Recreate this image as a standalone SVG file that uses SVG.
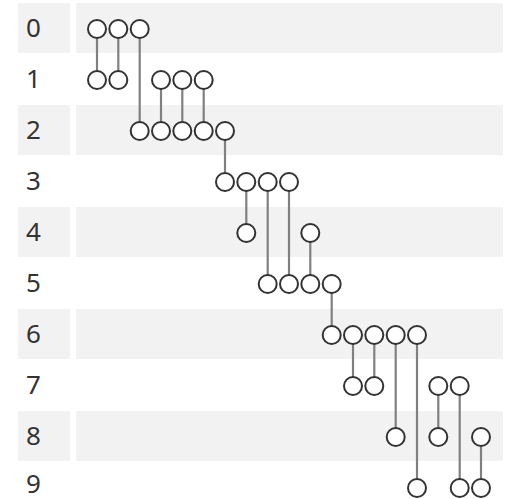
<svg xmlns="http://www.w3.org/2000/svg" width="510" height="499" viewBox="0 0 510 499">
<style>
.band{fill:#f2f2f2}
.lbl{font-family:"Noto Sans","Liberation Sans",sans-serif;font-size:26px;fill:#333}
.e{stroke:#808080;stroke-width:2.2;fill:none}
.n{fill:#fff;stroke:#333;stroke-width:2}
</style>
<rect width="510" height="499" fill="#fff"/>
<g id="bands">
<rect class="band" x="18" y="3" width="52" height="50"/><rect class="band" x="76" y="3" width="427" height="50"/>
<rect class="band" x="18" y="105" width="52" height="50"/><rect class="band" x="76" y="105" width="427" height="50"/>
<rect class="band" x="18" y="207" width="52" height="50"/><rect class="band" x="76" y="207" width="427" height="50"/>
<rect class="band" x="18" y="309" width="52" height="50"/><rect class="band" x="76" y="309" width="427" height="50"/>
<rect class="band" x="18" y="411" width="52" height="50"/><rect class="band" x="76" y="411" width="427" height="50"/>
</g>
<g id="labels">
<text class="lbl" x="26" y="37">0</text>
<text class="lbl" x="26" y="88">1</text>
<text class="lbl" x="26" y="139">2</text>
<text class="lbl" x="26" y="190">3</text>
<text class="lbl" x="26" y="241">4</text>
<text class="lbl" x="26" y="292">5</text>
<text class="lbl" x="26" y="343">6</text>
<text class="lbl" x="26" y="394">7</text>
<text class="lbl" x="26" y="445">8</text>
<text class="lbl" x="26" y="493">9</text>
</g>
<g id="connectors">
<line class="e" x1="97" y1="29" x2="97" y2="80"/>
<line class="e" x1="118.3" y1="29" x2="118.3" y2="80"/>
<line class="e" x1="139.7" y1="29" x2="139.7" y2="131"/>
<line class="e" x1="161" y1="80" x2="161" y2="131"/>
<line class="e" x1="182.3" y1="80" x2="182.3" y2="131"/>
<line class="e" x1="203.7" y1="80" x2="203.7" y2="131"/>
<line class="e" x1="225" y1="131" x2="225" y2="182"/>
<line class="e" x1="246.3" y1="182" x2="246.3" y2="233"/>
<line class="e" x1="267.7" y1="182" x2="267.7" y2="284"/>
<line class="e" x1="289" y1="182" x2="289" y2="284"/>
<line class="e" x1="310.3" y1="233" x2="310.3" y2="284"/>
<line class="e" x1="331.7" y1="284" x2="331.7" y2="335"/>
<line class="e" x1="353" y1="335" x2="353" y2="386"/>
<line class="e" x1="374.3" y1="335" x2="374.3" y2="386"/>
<line class="e" x1="395.7" y1="335" x2="395.7" y2="437"/>
<line class="e" x1="417" y1="335" x2="417" y2="488"/>
<line class="e" x1="438.3" y1="386" x2="438.3" y2="437"/>
<line class="e" x1="459.7" y1="386" x2="459.7" y2="488"/>
<line class="e" x1="481" y1="437" x2="481" y2="488"/>
</g>
<g id="n0_0"><circle class="n" cx="97" cy="29" r="9"/></g>
<g id="n0_1"><circle class="n" cx="118.3" cy="29" r="9"/></g>
<g id="n0_2"><circle class="n" cx="139.7" cy="29" r="9"/></g>
<g id="n1_0"><circle class="n" cx="97" cy="80" r="9"/></g>
<g id="n1_1"><circle class="n" cx="118.3" cy="80" r="9"/></g>
<g id="n1_3"><circle class="n" cx="161" cy="80" r="9"/></g>
<g id="n1_4"><circle class="n" cx="182.3" cy="80" r="9"/></g>
<g id="n1_5"><circle class="n" cx="203.7" cy="80" r="9"/></g>
<g id="n2_2"><circle class="n" cx="139.7" cy="131" r="9"/></g>
<g id="n2_3"><circle class="n" cx="161" cy="131" r="9"/></g>
<g id="n2_4"><circle class="n" cx="182.3" cy="131" r="9"/></g>
<g id="n2_5"><circle class="n" cx="203.7" cy="131" r="9"/></g>
<g id="n2_6"><circle class="n" cx="225" cy="131" r="9"/></g>
<g id="n3_6"><circle class="n" cx="225" cy="182" r="9"/></g>
<g id="n3_7"><circle class="n" cx="246.3" cy="182" r="9"/></g>
<g id="n3_8"><circle class="n" cx="267.7" cy="182" r="9"/></g>
<g id="n3_9"><circle class="n" cx="289" cy="182" r="9"/></g>
<g id="n4_7"><circle class="n" cx="246.3" cy="233" r="9"/></g>
<g id="n4_10"><circle class="n" cx="310.3" cy="233" r="9"/></g>
<g id="n5_8"><circle class="n" cx="267.7" cy="284" r="9"/></g>
<g id="n5_9"><circle class="n" cx="289" cy="284" r="9"/></g>
<g id="n5_10"><circle class="n" cx="310.3" cy="284" r="9"/></g>
<g id="n5_11"><circle class="n" cx="331.7" cy="284" r="9"/></g>
<g id="n6_11"><circle class="n" cx="331.7" cy="335" r="9"/></g>
<g id="n6_12"><circle class="n" cx="353" cy="335" r="9"/></g>
<g id="n6_13"><circle class="n" cx="374.3" cy="335" r="9"/></g>
<g id="n6_14"><circle class="n" cx="395.7" cy="335" r="9"/></g>
<g id="n6_15"><circle class="n" cx="417" cy="335" r="9"/></g>
<g id="n7_12"><circle class="n" cx="353" cy="386" r="9"/></g>
<g id="n7_13"><circle class="n" cx="374.3" cy="386" r="9"/></g>
<g id="n7_16"><circle class="n" cx="438.3" cy="386" r="9"/></g>
<g id="n7_17"><circle class="n" cx="459.7" cy="386" r="9"/></g>
<g id="n8_14"><circle class="n" cx="395.7" cy="437" r="9"/></g>
<g id="n8_16"><circle class="n" cx="438.3" cy="437" r="9"/></g>
<g id="n8_18"><circle class="n" cx="481" cy="437" r="9"/></g>
<g id="n9_15"><circle class="n" cx="417" cy="488" r="9"/></g>
<g id="n9_17"><circle class="n" cx="459.7" cy="488" r="9"/></g>
<g id="n9_18"><circle class="n" cx="481" cy="488" r="9"/></g>
</svg>
